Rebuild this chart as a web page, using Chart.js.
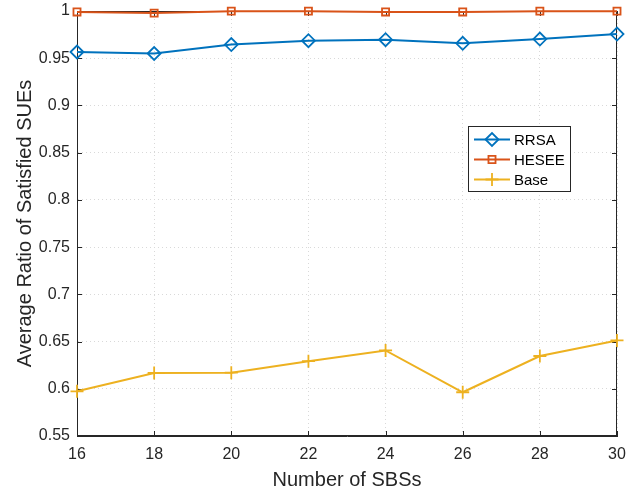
<!DOCTYPE html>
<html>
<head>
<meta charset="utf-8">
<script src="https://cdn.jsdelivr.net/npm/chart.js@4/dist/chart.umd.min.js"></script>
<style>
  html, body { margin: 0; padding: 0; background: #fff; }
  #wrap { width: 639px; height: 491px; position: relative; }
</style>
</head>
<body>
<div id="wrap"><canvas id="chart"></canvas></div>
<script>
const sbs = [16, 18, 20, 22, 24, 26, 28, 30]
const rrsa = [0.9566, 0.9550, 0.9645, 0.9686, 0.9696, 0.9658, 0.9703, 0.9756]
const hesee = [0.9990, 0.9978, 0.9998, 0.9998, 0.9990, 0.9990, 0.9998, 0.9998]
const base = [0.5973, 0.6167, 0.6170, 0.6292, 0.6406, 0.5963, 0.6347, 0.6512]
const seriesNames = ['RRSA', 'HESEE', 'Base']

const axisColor = '#262626'
const font = 'Liberation Sans, Arial, Helvetica, sans-serif'

function pts(vals) {
    return sbs.map((x, i) => ({ x, y: vals[i] }))
}

function series(label, vals, color, style, radius) {
    return {
        label,
        data: pts(vals),
        borderColor: color,
        backgroundColor: color,
        borderWidth: 2,
        pointStyle: style,
        pointRadius: radius,
        pointBorderWidth: 1.8,
        pointBackgroundColor: 'rgba(0,0,0,0)',
        pointBorderColor: color,
        tension: 0,
        clip: false
    }
}

// box around plot + inward ticks, MATLAB look
const boxPlugin = {
    id: 'box',
    beforeDatasetsDraw(chart) {
        const { ctx, chartArea: a, scales } = chart
        ctx.save()
        ctx.strokeStyle = axisColor
        ctx.lineWidth = 1
        ctx.strokeRect(a.left + 0.5, a.top + 0.5, a.right - a.left - 1, a.bottom - a.top - 1)
        ctx.beginPath()
        scales.x.ticks.forEach(t => {
            const px = Math.round(scales.x.getPixelForValue(t.value)) + 0.5
            ctx.moveTo(px, a.bottom); ctx.lineTo(px, a.bottom - 5)
            ctx.moveTo(px, a.top); ctx.lineTo(px, a.top + 5)
        })
        scales.y.ticks.forEach(t => {
            const py = Math.round(scales.y.getPixelForValue(t.value)) + 0.5
            ctx.moveTo(a.left, py); ctx.lineTo(a.left + 5, py)
            ctx.moveTo(a.right, py); ctx.lineTo(a.right - 5, py)
        })
        ctx.stroke()
        ctx.restore()
    }
}

const legendPlugin = {
    id: 'boxLegend',
    afterDraw(chart) {
        const { ctx } = chart
        const x0 = 468, y0 = 126, w = 102, h = 65
        ctx.save()
        ctx.fillStyle = '#fff'
        ctx.fillRect(x0, y0, w, h)
        ctx.strokeStyle = axisColor
        ctx.lineWidth = 1
        ctx.strokeRect(x0 + 0.5, y0 + 0.5, w, h)
        chart.data.datasets.forEach((ds, i) => {
            const y = y0 + 13.5 + i * 20
            ctx.strokeStyle = ds.borderColor
            ctx.lineWidth = 2
            ctx.beginPath()
            ctx.moveTo(474, y); ctx.lineTo(510, y)
            ctx.stroke()
            ctx.lineWidth = ds.pointBorderWidth
            ctx.fillStyle = 'rgba(0,0,0,0)'
            Chart.helpers.drawPoint(ctx, { pointStyle: ds.pointStyle, radius: ds.pointRadius, borderWidth: ds.pointBorderWidth, rotation: 0 }, 492, y)
            ctx.fillStyle = '#000'
            ctx.font = '15px ' + font
            ctx.textBaseline = 'middle'
            ctx.textAlign = 'left'
            ctx.fillText(seriesNames[i], 514, y + 1)
        })
        ctx.restore()
    }
}

new Chart(document.getElementById('chart').getContext('2d'), {
    type: 'line',
    data: {
        datasets: [
            series(seriesNames[0], rrsa, '#0072BD', 'rectRot', 6.5),
            series(seriesNames[1], hesee, '#D95319', 'rect', 5),
            series(seriesNames[2], base, '#EDB120', 'cross', 6.5)
        ]
    },
    options: {
        responsive: true,
        maintainAspectRatio: false,
        animation: false,
        layout: { padding: { top: 11, right: 22, left: 0, bottom: 0 } },
        plugins: {
            legend: { display: false },
            tooltip: { enabled: false }
        },
        scales: {
            x: {
                type: 'linear',
                min: 16,
                max: 30,
                ticks: { stepSize: 2, color: axisColor, font: { family: font, size: 16 }, padding: 9, maxRotation: 0 },
                grid: { color: '#d9d9d9', drawTicks: false, lineWidth: 1 },
                border: { color: axisColor, dash: [1, 3] },
                title: { display: true, text: 'Number of SBSs', color: axisColor, font: { family: font, size: 20, lineHeight: 1.1 }, padding: { top: 0, bottom: 0 } },
                afterFit(s) { s.height = 55; s.paddingLeft = 0; s.paddingRight = 0 }
            },
            y: {
                min: 0.55,
                max: 1,
                ticks: { stepSize: 0.05, color: axisColor, font: { family: font, size: 16 }, padding: 7,
                    callback: v => Number(v.toFixed(2)).toString() },
                grid: { color: '#d9d9d9', drawTicks: false, lineWidth: 1 },
                border: { color: axisColor, dash: [1, 3] },
                title: { display: true, text: 'Average Ratio of Satisfied SUEs', color: axisColor, font: { family: font, size: 20 }, padding: { top: 13, bottom: 0 } },
                afterFit(s) { s.width = 77; s.paddingTop = 0; s.paddingBottom = 0 }
            }
        }
    },
    plugins: [boxPlugin, legendPlugin]
})
</script>
</body>
</html>
